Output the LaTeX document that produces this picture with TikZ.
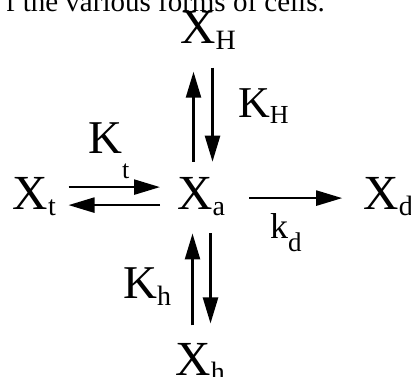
\documentclass[tikz,border=0pt]{standalone}
\usepackage{fontspec}
\setmainfont{Liberation Serif}
\usetikzlibrary{arrows.meta, positioning}

\newcommand{\lowsub}[2][6pt]{\raisebox{-#1}{\fontsize{28pt}{28pt}\selectfont #2}}

\begin{document}
\begin{tikzpicture}[
  x=1pt, y=-1pt,
  species/.style={inner sep=0pt, font=\fontsize{49pt}{49pt}\selectfont},
  rate/.style={inner sep=0pt, anchor=base west, font=\fontsize{47pt}{47pt}\selectfont},
  arrow/.style={-{Triangle[length=26pt, width=15pt]}, line width=2.4pt}
]
\useasboundingbox (0,0) rectangle (411,376);

\node[inner sep=0pt, anchor=base east, font=\fontsize{29pt}{29pt}\selectfont] (caption) at (325,11.5) {f the various forms of cells.};

\node[species, anchor=base west] (xa) at (177,209) {X\lowsub{a}};
\node[species, base left=121pt of xa] (xt) {X\lowsub{t}};
\node[species, base right=138pt of xa] (xd) {X\lowsub{d}};
\node[species, above=127pt of xa, xshift=7pt] (xH) {X\lowsub{H}};
\node[species, below=127.6pt of xa, xshift=-1pt] (xh) {X\lowsub{h}};

\node[rate] (kt) at (88,153) {K\raisebox{-25pt}{\fontsize{26pt}{26pt}\selectfont t}};
\node[rate, font=\fontsize{44pt}{44pt}\selectfont] (kH) at (238,117) {K\raisebox{-6pt}{\fontsize{26pt}{26pt}\selectfont H}};
\node[rate] (kh) at (123,298) {K\lowsub[7pt]{h}};
\node[rate, font=\fontsize{36pt}{36pt}\selectfont] (kd) at (270,238) {k\raisebox{-13pt}{\fontsize{27pt}{27pt}\selectfont d}};

\draw[arrow, shorten <=15pt, shorten >=22pt] ([xshift=-7.6pt]xa.north) -- ([xshift=-7.6pt]xa.north |- xH.south);
\draw[arrow, shorten <=18pt, shorten >=15pt] ([xshift=11.4pt]xa.north |- xH.south) -- ([xshift=11.4pt]xa.north);

\draw[arrow, shorten <=12.5pt, shorten >=17pt] ([yshift=9pt]xa.west -| xt.east) -- ([yshift=9pt]xa.west);
\draw[arrow, shorten <=17pt, shorten >=12.5pt] ([yshift=-9pt]xa.west) -- ([yshift=-9pt]xa.west -| xt.east);

\draw[arrow, shorten <=24pt, shorten >=21pt] ([yshift=-2pt]xa.east) -- ([yshift=-2pt]xa.east -| xd.west);

\draw[arrow, shorten <=17.6pt, shorten >=18pt] ([xshift=-8.6pt]xa.south |- xh.north) -- ([xshift=-8.6pt]xa.south);
\draw[arrow, shorten <=18pt, shorten >=19.6pt] ([xshift=9.4pt]xa.south) -- ([xshift=9.4pt]xa.south |- xh.north);

\end{tikzpicture}
\end{document}
